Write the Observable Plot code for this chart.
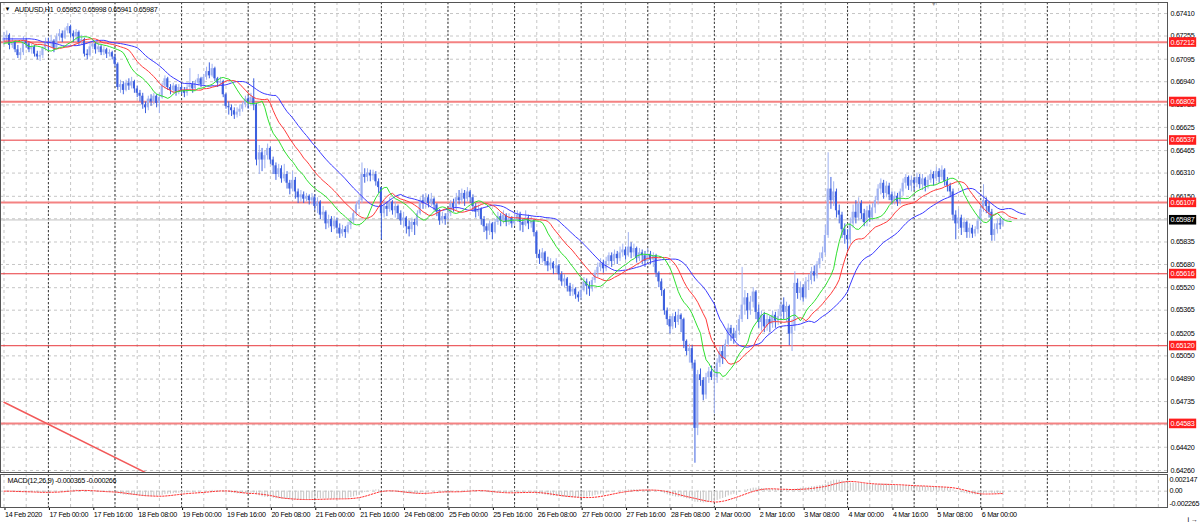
<!DOCTYPE html>
<html><head><meta charset="utf-8">
<script src="https://cdn.jsdelivr.net/npm/d3@7"></script>
<script src="https://cdn.jsdelivr.net/npm/@observablehq/plot@0.6"></script>
<style>
html,body{margin:0;padding:0;background:#fff;width:1200px;height:524px;overflow:hidden}
#chart svg{display:block}
#chart svg text{letter-spacing:-0.3px}
</style></head><body><div id="chart"></div>
<script>
// ---------- DATA ----------
const symbolLabel = "AUDUSD,H1";
const lastBarOHLC = [0.65952, 0.65998, 0.65941, 0.65987];
const firstOpenPips = 6722;
// hourly closes, highs, lows in pips (price * 10000), 14 Feb 08:00 .. 6 Mar 08:00
const closePips = [
6724,6726,6719,6721,6716,6712,6714,6722,6720,6716,6718,6713,6711,6712,6717,6721,
6720,6722,6717,6725,6727,6724,6729,6732,6727,6725,6728,6721,6723,6713,6712,6718,6720,6716,6718,6714,6716,6713,6714,6711,
6706,6690,6692,6688,6693,6691,6694,6689,6686,6684,6678,6676,6682,6680,6684,6679,6683,6691,6696,6690,6688,6691,6687,6690,
6688,6686,6690,6692,6689,6693,6696,6692,6697,6701,6698,6703,6696,6693,6694,6685,6677,6676,6674,6671,6673,6675,6678,6682,
6680,6683,6678,6640,6645,6640,6643,6648,6640,6636,6630,6634,6627,6630,6624,6620,6626,6618,6614,6616,6613,6615,6612,6614,
6608,6611,6602,6604,6596,6599,6594,6598,6593,6589,6592,6590,6595,6598,6603,6609,6612,6630,6628,6631,6629,6630,6625,6621,
6603,6608,6606,6611,6605,6608,6603,6598,6600,6594,6592,6597,6595,6603,6612,6610,6614,6610,6613,6609,6604,6598,6601,6599,
6603,6610,6607,6614,6612,6617,6613,6618,6614,6608,6604,6606,6599,6594,6591,6596,6590,6597,6601,6598,6602,6597,6600,6596,
6599,6602,6597,6595,6600,6596,6598,6590,6575,6572,6576,6570,6567,6569,6565,6567,6561,6556,6558,6553,6549,6551,6547,6545,
6550,6556,6553,6551,6557,6562,6566,6569,6565,6570,6574,6570,6575,6572,6576,6578,6574,6580,6576,6579,6572,6576,6574,6570,
6575,6571,6574,6562,6556,6550,6536,6530,6525,6532,6528,6533,6530,6515,6508,6510,6500,6455,6492,6488,6478,6490,6494,6490,
6490,6500,6508,6503,6513,6524,6520,6517,6522,6530,6540,6545,6536,6542,6549,6535,6528,6533,6525,6530,6527,6533,6529,6532,
6540,6535,6539,6520,6525,6555,6548,6552,6545,6556,6557,6563,6560,6568,6572,6576,6588,6620,6612,6618,6605,6602,6592,6588,
6585,6596,6604,6600,6610,6603,6597,6605,6600,6607,6612,6620,6624,6617,6622,6616,6612,6615,6611,6618,6624,6628,6622,6626,
6624,6628,6623,6627,6622,6626,6630,6627,6632,6628,6633,6625,6622,6618,6602,6596,6600,6593,6597,6590,6593,6589,6592,6598,
6606,6612,6608,6604,6588,6592,6596,6595.2,6598.7];
const highPips = [
6728,6729,6727,6724,6722,6719,6717,6725,6724,6721,6720,6719,6715,6715,6718,6724,
6724,6726,6723,6727,6730,6729,6731,6734,6733,6729,6730,6729,6726,6724,6716,6721,6722,6721,6721,6719,6718,6717,6716,6715,
6713,6707,6695,6694,6695,6696,6697,6695,6691,6688,6686,6680,6684,6685,6686,6685,6686,6693,6698,6697,6692,6693,6692,6692,
6692,6690,6693,6703,6694,6695,6699,6697,6699,6704,6707,6706,6704,6697,6697,6695,6686,6680,6678,6676,6676,6678,6680,6684,
6684,6686,6696,6679,6650,6648,6646,6651,6649,6642,6638,6637,6636,6637,6632,6626,6632,6628,6620,6619,6618,6617,6616,6617,
6616,6614,6612,6608,6605,6602,6601,6601,6600,6596,6595,6594,6597,6600,6605,6611,6614,6638,6634,6634,6633,6633,6632,6627,
6620,6612,6611,6614,6612,6611,6609,6605,6604,6601,6598,6600,6599,6605,6614,6616,6617,6616,6617,6614,6610,6606,6604,6603,
6606,6612,6613,6617,6619,6620,6619,6621,6619,6616,6610,6609,6607,6601,6596,6598,6597,6599,6604,6603,6605,6603,6603,6601,
6603,6605,6604,6599,6605,6602,6601,6599,6591,6578,6579,6577,6573,6572,6570,6572,6568,6563,6561,6559,6555,6554,6552,6549,
6553,6559,6558,6556,6559,6564,6569,6572,6571,6573,6576,6576,6578,6577,6580,6582,6580,6590,6583,6582,6580,6579,6578,6577,
6579,6577,6576,6575,6563,6558,6551,6538,6532,6534,6535,6537,6534,6531,6516,6513,6512,6502,6495,6496,6490,6493,6497,6498,
6496,6503,6511,6512,6516,6527,6526,6524,6526,6533,6566,6550,6548,6546,6552,6550,6540,6536,6535,6533,6532,6536,6535,6537,
6543,6545,6542,6540,6530,6563,6558,6556,6554,6559,6561,6566,6567,6570,6576,6580,6595,6645,6628,6625,6620,6609,6604,6596,
6592,6600,6609,6612,6614,6612,6606,6608,6609,6610,6615,6623,6627,6626,6625,6624,6618,6618,6617,6620,6627,6630,6629,6629,
6628,6631,6630,6630,6628,6629,6633,6632,6635,6634,6636,6634,6628,6624,6620,6605,6606,6602,6600,6598,6596,6595,6594,6601,
6610,6623,6614,6611,6606,6596,6599,6600,6599.8];
const lowPips = [
6719,6721,6716,6717,6714,6710,6709,6712,6717,6714,6713,6711,6709,6708,6710,6715,
6715,6717,6714,6716,6722,6721,6723,6727,6724,6721,6722,6719,6719,6711,6709,6711,6716,6713,6714,6712,6712,6710,6711,6709,
6704,6688,6686,6685,6687,6688,6689,6686,6683,6680,6675,6672,6674,6677,6678,6676,6672,6682,6689,6688,6685,6686,6684,6685,
6685,6683,6684,6688,6686,6688,6691,6690,6691,6695,6696,6697,6694,6690,6691,6683,6675,6671,6670,6668,6669,6670,6673,6676,
6675,6677,6674,6636,6630,6632,6634,6640,6637,6630,6626,6628,6624,6625,6620,6616,6618,6613,6610,6611,6610,6611,6609,6609,
6605,6603,6599,6598,6592,6593,6590,6592,6589,6586,6587,6586,6589,6592,6596,6601,6606,6610,6624,6625,6625,6626,6622,6617,
6585,6600,6601,6604,6602,6600,6599,6595,6593,6589,6587,6590,6588,6594,6602,6606,6607,6607,6608,6605,6601,6595,6596,6595,
6597,6601,6604,6605,6609,6610,6608,6611,6610,6604,6600,6601,6595,6590,6585,6588,6585,6589,6595,6594,6596,6594,6595,6593,
6595,6597,6591,6590,6594,6592,6593,6587,6572,6568,6569,6567,6563,6564,6561,6562,6557,6553,6552,6549,6546,6546,6544,6542,
6543,6549,6547,6546,6549,6555,6559,6563,6562,6563,6567,6566,6568,6568,6570,6573,6571,6573,6572,6573,6569,6570,6568,6566,
6570,6568,6566,6559,6552,6546,6533,6526,6520,6523,6524,6526,6521,6510,6505,6500,6496,6431,6450,6484,6474,6475,6486,6488,
6465,6486,6497,6499,6502,6511,6515,6513,6515,6519,6528,6533,6530,6533,6538,6530,6524,6522,6521,6522,6521,6524,6524,6526,
6530,6530,6528,6512,6508,6522,6544,6543,6542,6544,6550,6554,6556,6558,6565,6570,6574,6586,6606,6608,6600,6596,6586,6582,
6578,6582,6593,6596,6598,6599,6594,6594,6597,6598,6603,6609,6616,6613,6614,6612,6609,6609,6608,6609,6615,6620,6619,6618,
6619,6621,6620,6619,6618,6620,6624,6622,6625,6624,6626,6622,6618,6614,6598,6585,6592,6588,6590,6586,6586,6586,6587,6589,
6596,6604,6603,6600,6584,6584,6589,6592,6594.1];

const timeLabels = ["14 Feb 2020","17 Feb 00:00","17 Feb 16:00","18 Feb 08:00","19 Feb 00:00","19 Feb 16:00",
  "20 Feb 08:00","21 Feb 00:00","21 Feb 16:00","24 Feb 08:00","25 Feb 00:00","25 Feb 16:00","26 Feb 08:00",
  "27 Feb 00:00","27 Feb 16:00","28 Feb 08:00","2 Mar 00:00","2 Mar 16:00","3 Mar 08:00","4 Mar 00:00",
  "4 Mar 16:00","5 Mar 08:00","6 Mar 00:00"];
const barsPerLabel = 16;
// price grid (all) and the price labels shown on the axis
const priceGrid = [0.67410,0.67255,0.67095,0.66940,0.66780,0.66625,0.66465,0.66310,0.66150,0.65995,0.65835,
  0.65680,0.65520,0.65365,0.65205,0.65050,0.64890,0.64735,0.64575,0.64420,0.64260];
const priceAxisLabels = [0.67410,0.67255,0.67095,0.66940,0.66780,0.66625,0.66465,0.66310,0.66150,0.65835,
  0.65680,0.65520,0.65365,0.65205,0.65050,0.64890,0.64735,0.64420,0.64260];
const levelsLight = [0.67212, 0.66802, 0.66107, 0.64583];
const levelsDark = [0.66537, 0.65616, 0.65120];
const trendLine = [{bar: 0, price: 0.6473}, {bar: 60, price: 0.6416}];
const alligatorSeed = {jaw: 0.67235, teeth: 0.67220, lips: 0.67205};
const macdTitleValues = ["-0.000365", "-0.000266"];
const macdTicks = [0.002147, 0, -0.002265];
const shiftMarkerBar = 335;

// ---------- BUILD ----------
const bars = closePips.map((c, i) => {
  const open = (i ? closePips[i - 1] : firstOpenPips) / 1e4;
  const close = c / 1e4, high = highPips[i] / 1e4, low = lowPips[i] / 1e4;
  return {i, open, close, high: Math.max(high, open, close), low: Math.min(low, open, close)};
});
const lastClose = lastBarOHLC[3];
const bull = "#9fb1f1", bear = "#3d60df";

function smma(values, n, seed) { let s = seed; return values.map(v => (s = (s * (n - 1) + v) / n)); }
const median = bars.map(b => (b.high + b.low) / 2);
function alligator(n, shift, seed) {
  return [{x: 0, y: seed}, ...smma(median, n, seed).map((v, i) => ({x: i + shift, y: v}))];
}
const jaw = alligator(13, 8, alligatorSeed.jaw);
const teeth = alligator(8, 5, alligatorSeed.teeth);
const lips = alligator(5, 3, alligatorSeed.lips);

function ema(values, n) { const k = 2 / (n + 1); let e = values[0]; return values.map(v => (e = e + k * (v - e))); }
const closes = bars.map(b => b.close);
const e12 = ema(closes, 12), e26 = ema(closes, 26);
const macd = e12.map((v, i) => v - e26[i]);
const macdData = macd.map((m, i) => ({i, macd: m, sig: d3.mean(macd.slice(Math.max(0, i - 8), i + 1))}));

const xDomain = [-1.26, 419.3];
const gridBars = d3.range(0, 420, 8);
const daySepBars = d3.range(16, 380, 24);
const labelBars = timeLabels.map((_, k) => k * barsPerLabel);
const labelMap = new Map(labelBars.map((b, k) => [b, timeLabels[k]]));
const font = "'Liberation Sans', Arial, sans-serif";
const fs = 7.2;
const gridStyle = {stroke: "#c6c6c6", strokeDasharray: "3,3"};
const sepStyle = {stroke: "#3a3a3a", strokeDasharray: "2,2"};
const LEVEL_TEXT = "#fffffe";

const levelItems = [
  ...levelsLight.map(p => ({p, fill: "#ff1e1e"})),
  ...levelsDark.map(p => ({p, fill: "#ff1e1e"})),
  {p: lastClose, fill: "#000"}
];

const main = Plot.plot({
  width: 1200, height: 473,
  marginLeft: 0, marginRight: 33, marginTop: 2, marginBottom: 1,
  style: {fontFamily: font, fontSize: fs + "px", background: "#fff", color: "#000", overflow: "visible"},
  x: {domain: xDomain, axis: null},
  y: {domain: [0.64246, 0.67486], axis: null},
  marks: [
    Plot.ruleY(priceGrid, gridStyle),
    Plot.ruleX(gridBars, gridStyle),
    Plot.ruleX(daySepBars, sepStyle),
    Plot.ruleY([lastClose], {stroke: "#c2c2c2"}),
    Plot.ruleY(levelsLight, {stroke: "#f48282", strokeWidth: 2}),
    Plot.ruleY(levelsDark, {stroke: "#e8383c", strokeWidth: 1}),
    Plot.line(trendLine, {x: "bar", y: "price", stroke: "#f25a5a", clip: true}),
    Plot.ruleX(bars, {x: "i", y1: "low", y2: "high", stroke: d => d.close >= d.open ? bull : bear, strokeWidth: 1}),
    Plot.rect(bars, {x1: d => d.i - 0.37, x2: d => d.i + 0.37, y1: "open", y2: "close",
      fill: d => d.close >= d.open ? bull : bear}),
    Plot.line(jaw, {x: "x", y: "y", stroke: "#3a3aff", strokeWidth: 1}),
    Plot.line(teeth, {x: "x", y: "y", stroke: "#ff3a3a", strokeWidth: 1}),
    Plot.line(lips, {x: "x", y: "y", stroke: "#2fe02f", strokeWidth: 1}),
    Plot.axisY({anchor: "right", ticks: priceAxisLabels, tickFormat: d3.format(".5f"), tickSize: 0, tickPadding: 3,
      fontSize: fs, fill: "#000"}),
    Plot.text(levelItems, {y: "p", text: d => d3.format(".5f")(d.p), frameAnchor: "right", textAnchor: "start",
      dx: 3, fill: LEVEL_TEXT, fontSize: fs}),
    Plot.text(["\u25BC"], {frameAnchor: "top-left", dx: 4, dy: 7, lineAnchor: "middle", textAnchor: "start", fontSize: 6, fill: "#000"}),
    Plot.text([`${symbolLabel}  ${lastBarOHLC.map(d3.format(".5f")).join(" ")}`],
      {frameAnchor: "top-left", dx: 14, dy: 7, lineAnchor: "middle", textAnchor: "start", fontSize: fs, fill: "#000"}),
    Plot.text([shiftMarkerBar], {x: d => d, frameAnchor: "top", text: () => "\u25BC", dy: 2, lineAnchor: "middle", fontSize: 6, fill: "#9a9a9a"}),
    Plot.frame({stroke: "#555"})
  ]
});

const macdPlot = Plot.plot({
  width: 1200, height: 51,
  marginLeft: 0, marginRight: 33, marginTop: 1, marginBottom: 17,
  style: {fontFamily: font, fontSize: fs + "px", background: "#fff", color: "#000", overflow: "visible"},
  x: {domain: xDomain, axis: null},
  y: {domain: [macdTicks[2], macdTicks[0]], range: [30, 6], axis: null},
  marks: [
    Plot.ruleY([0], gridStyle),
    Plot.ruleX(gridBars, gridStyle),
    Plot.ruleX(daySepBars, sepStyle),
    Plot.ruleX(macdData, {x: "i", y1: 0, y2: "macd", stroke: "#c3c3c3", strokeWidth: 1, clip: true}),
    Plot.line(macdData, {x: "i", y: "sig", stroke: "#ff3030", strokeDasharray: "1.5,1.5", strokeWidth: 1, clip: true}),
    Plot.text([`MACD(12,26,9) ${macdTitleValues.join(" ")}`],
      {frameAnchor: "top-left", dx: 7, dy: 6, lineAnchor: "middle", textAnchor: "start", fontSize: fs, fill: "#000"}),
    Plot.axisY({anchor: "right", ticks: macdTicks, tickFormat: d => d === 0 ? "0.00" : d.toFixed(6),
      tickSize: 0, tickPadding: 2, fontSize: fs, fill: "#000"}),
    Plot.axisX({anchor: "bottom", ticks: labelBars, tickFormat: d => labelMap.get(d), textAnchor: "start",
      tickSize: 3, tickPadding: 1, dx: 1, fontSize: fs, fill: "#000", stroke: "#000"}),
    Plot.frame({stroke: "#555"})
  ]
});

const holder = document.getElementById("chart");
holder.append(main, macdPlot);

// boxes behind the level price labels
const levelNodes = d3.select(main).selectAll(`g[fill="${LEVEL_TEXT}"] text, text[fill="${LEVEL_TEXT}"]`).nodes();
levelNodes.forEach((node, k) => {
  const bb = node.getBBox();
  const r = document.createElementNS("http://www.w3.org/2000/svg", "rect");
  r.setAttribute("x", bb.x - 1.5);
  r.setAttribute("y", bb.y - 0.3);
  r.setAttribute("width", bb.width + 3);
  r.setAttribute("height", bb.height + 0.6);
  r.setAttribute("fill", levelItems[k] ? levelItems[k].fill : "#ff1e1e");
  const t = node.getAttribute("transform");
  if (t) r.setAttribute("transform", t);
  node.parentNode.insertBefore(r, node);
});
</script></body></html>
